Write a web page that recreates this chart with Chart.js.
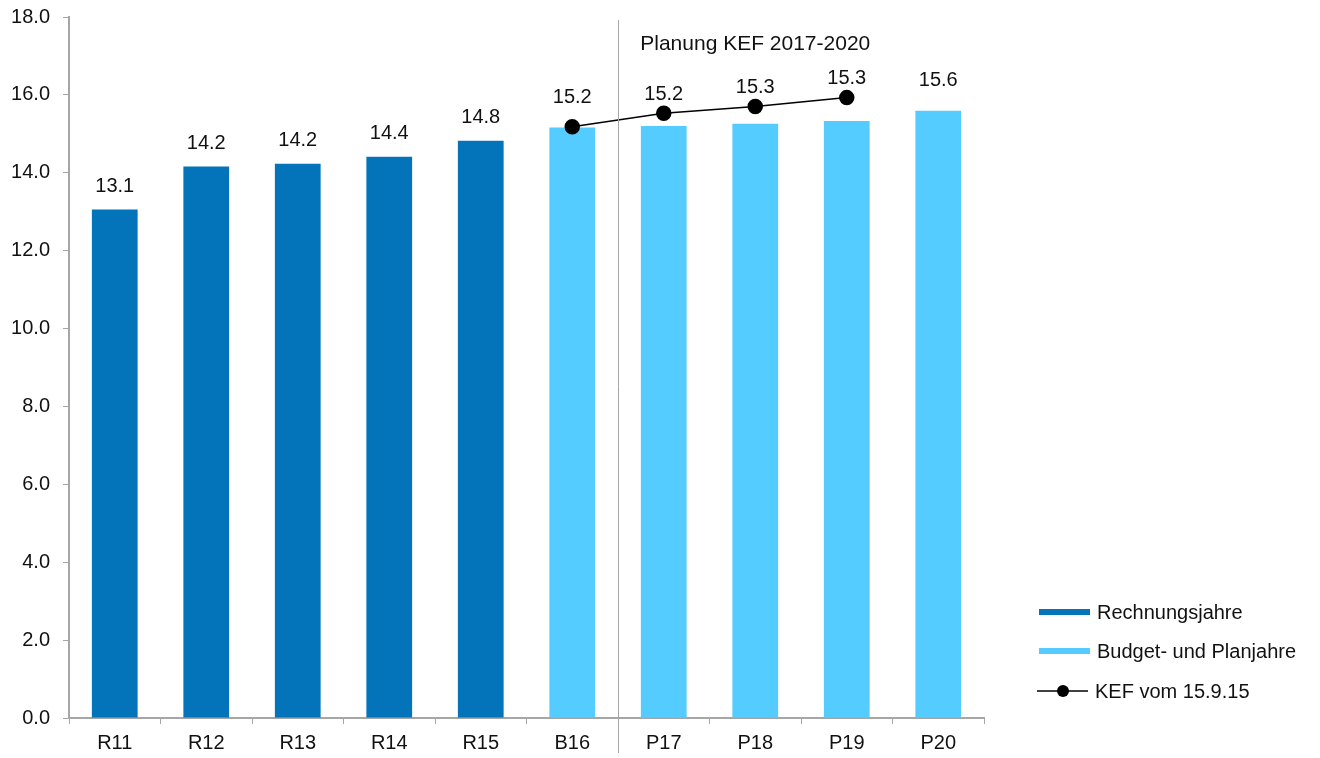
<!DOCTYPE html>
<html>
<head>
    <title>KEF 2017-2020</title>
    <script src="https://cdn.jsdelivr.net/npm/chart.js"></script>
    <style>
        * { margin: 0; padding: 0; box-sizing: border-box; }
        body { background: #ffffff; width: 1320px; height: 758px; overflow: hidden; }
        .chart-container { position: relative; width: 1320px; height: 758px; }
    </style>
</head>
<body>
    <div class="chart-container">
        <canvas id="kefChart"></canvas>
    </div>

    <script>
        // Daten
        const categories = ['R11', 'R12', 'R13', 'R14', 'R15', 'B16', 'P17', 'P18', 'P19', 'P20'];
        const rechnungsjahre = [13.06, 14.16, 14.23, 14.41, 14.82, null, null, null, null, null];
        const planjahre = [null, null, null, null, null, 15.16, 15.2, 15.26, 15.33, 15.59];
        const kef = [null, null, null, null, null, 15.18, 15.53, 15.70, 15.93, null];
        const yTicks = [0, 2, 4, 6, 8, 10, 12, 14, 16, 18];
        const planLabel = 'Planung KEF 2017-2020';

        const FONT = '"Liberation Sans", Arial, sans-serif';
        const GRAY = '#a6a6a6';

        // Wertbeschriftungen über den Balken
        const valueLabels = {
            id: 'valueLabels',
            afterDatasetsDraw(chart) {
                const ctx = chart.ctx;
                const lineMeta = chart.getDatasetMeta(2);
                ctx.save();
                ctx.font = '20px ' + FONT;
                ctx.fillStyle = '#111';
                ctx.textAlign = 'center';
                ctx.textBaseline = 'middle';
                [0, 1].forEach(di => {
                    const ds = chart.data.datasets[di];
                    const meta = chart.getDatasetMeta(di);
                    meta.data.forEach((bar, i) => {
                        const v = ds.data[i];
                        if (v === null) return;
                        let y = bar.y - ds.labelOffset;
                        const pt = lineMeta.data[i];
                        if (kef[i] !== null && pt) y = Math.min(y, pt.y - 19);
                        ctx.fillText(v.toFixed(1), bar.x, y);
                    });
                });
                ctx.restore();
            }
        };

        // Trennlinie und Beschriftung der Planungsperiode
        const planDivider = {
            id: 'planDivider',
            afterDraw(chart) {
                const ctx = chart.ctx;
                const x = chart.scales.x;
                const y = chart.scales.y;
                const xs = (x.getPixelForValue(5) + x.getPixelForValue(6)) / 2;
                ctx.save();
                ctx.strokeStyle = GRAY;
                ctx.lineWidth = 1;
                ctx.beginPath();
                ctx.moveTo(Math.round(xs) + 0.5, chart.chartArea.top + 3);
                ctx.lineTo(Math.round(xs) + 0.5, chart.chartArea.bottom + 35);
                ctx.stroke();
                ctx.font = '21px ' + FONT;
                ctx.fillStyle = '#111';
                ctx.textAlign = 'center';
                ctx.textBaseline = 'middle';
                ctx.fillText(planLabel, x.getPixelForValue(7), y.getPixelForValue(17.3));
                ctx.restore();
            }
        };

        // Legende rechts unten
        const sideLegend = {
            id: 'sideLegend',
            afterDraw(chart) {
                const ctx = chart.ctx;
                const left = chart.chartArea.right + 55;
                const rowY = [612, 651, 691];
                ctx.save();
                ctx.font = '20px ' + FONT;
                ctx.fillStyle = '#111';
                ctx.textBaseline = 'middle';
                chart.data.datasets.forEach((ds, i) => {
                    const y = rowY[i];
                    if (ds.type === 'line') {
                        ctx.strokeStyle = ds.borderColor;
                        ctx.lineWidth = 1.5;
                        ctx.beginPath();
                        ctx.moveTo(left - 2, y);
                        ctx.lineTo(left + 49, y);
                        ctx.stroke();
                        ctx.fillStyle = ds.pointBackgroundColor;
                        ctx.beginPath();
                        ctx.arc(left + 24, y, 6, 0, Math.PI * 2);
                        ctx.fill();
                        ctx.fillStyle = '#111';
                        ctx.fillText(ds.label, left + 56, y + 1);
                    } else {
                        ctx.fillStyle = ds.backgroundColor;
                        ctx.fillRect(left, y - 3, 51, 6);
                        ctx.fillStyle = '#111';
                        ctx.fillText(ds.label, left + 58, y + 1);
                    }
                });
                ctx.restore();
            }
        };

        const config = {
            type: 'bar',
            data: {
                labels: categories,
                datasets: [{
                    label: 'Rechnungsjahre',
                    data: rechnungsjahre,
                    backgroundColor: '#0474BA',
                    barPercentage: 0.5,
                    categoryPercentage: 1,
                    labelOffset: 23,
                    order: 2
                }, {
                    label: 'Budget- und Planjahre',
                    data: planjahre,
                    backgroundColor: '#54CCFF',
                    barPercentage: 0.5,
                    categoryPercentage: 1,
                    labelOffset: 30,
                    order: 2
                }, {
                    type: 'line',
                    label: 'KEF vom 15.9.15',
                    data: kef,
                    borderColor: '#000',
                    borderWidth: 1.5,
                    pointBackgroundColor: '#000',
                    pointBorderColor: '#000',
                    pointRadius: 7,
                    spanGaps: false,
                    order: 1
                }]
            },
            options: {
                responsive: true,
                maintainAspectRatio: false,
                animation: false,
                layout: { padding: { top: 17, right: 336, left: 0, bottom: 0 } },
                scales: {
                    x: {
                        stacked: true,
                        grid: { display: true, drawOnChartArea: false, color: GRAY, tickLength: 6, offset: true },
                        border: { color: GRAY, width: 2 },
                        ticks: { color: '#111', font: { family: FONT, size: 20 }, padding: 7 },
                        afterFit: s => { s.height = 40; s.paddingLeft = 0; s.paddingRight = 0; }
                    },
                    y: {
                        min: 0,
                        max: 18,
                        afterBuildTicks: s => { s.ticks = yTicks.map(v => ({ value: v })); },
                        grid: { display: true, drawOnChartArea: false, color: GRAY, tickLength: 6 },
                        border: { color: GRAY, width: 2 },
                        ticks: {
                            color: '#111',
                            font: { family: FONT, size: 20 },
                            padding: 13,
                            callback: v => v.toFixed(1)
                        },
                        afterFit: s => { s.width = 69; s.paddingTop = 0; s.paddingBottom = 0; }
                    }
                },
                plugins: {
                    legend: { display: false },
                    tooltip: { enabled: false }
                }
            },
            plugins: [valueLabels, planDivider, sideLegend]
        };

        const ctx = document.getElementById('kefChart').getContext('2d');
        const chart = new Chart(ctx, config);
    </script>
</body>
</html>
